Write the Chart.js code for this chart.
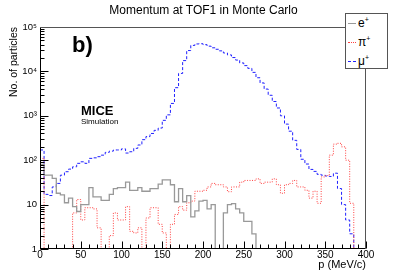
<!DOCTYPE html>
<html>
<head>
<meta charset="utf-8">
<script src="https://cdn.jsdelivr.net/npm/chart.js@4.4.0/dist/chart.umd.min.js"></script>
<style>
  html, body { margin: 0; padding: 0; background: #fff; }
  #wrap { position: relative; width: 407px; height: 276px; font-family: "Liberation Sans", Arial, sans-serif; color: #000; }
  canvas { position: absolute; left: 0; top: 0; }
  .txt { position: absolute; white-space: nowrap; line-height: 1; }
  #title { left: 0; width: 407px; top: 4px; text-align: center; font-size: 12px; }
  #tag { left: 72px; top: 34px; font-size: 22px; font-weight: bold; }
  #mice { left: 81px; top: 104px; font-size: 13px; font-weight: bold; }
  #sim { left: 81px; top: 118px; font-size: 8px; }
  #legend { position: absolute; left: 345px; top: 13px; width: 41px; height: 54px; border: 1px solid #555; background: #fff; }
  .entry { position: absolute; left: 2px; font-size: 12px; line-height: 14px; white-space: nowrap; }
  .entry sup { font-size: 7px; vertical-align: 5px; line-height: 0; }
  .sample { display: inline-block; width: 8px; height: 0; vertical-align: middle; margin-right: 2px; }
</style>
</head>
<body>
<div id="wrap">
  <canvas id="c" width="407" height="276"></canvas>
  <div class="txt" id="title">Momentum at TOF1 in Monte Carlo</div>
  <div class="txt" id="tag">b)</div>
  <div class="txt" id="mice">MICE</div>
  <div class="txt" id="sim">Simulation</div>
  <div id="legend">
    <div class="entry" style="top:2px"><span class="sample" style="border-top:1px solid #999"></span>e<sup>+</sup></div>
    <div class="entry" style="top:21px"><span class="sample" style="border-top:1px dotted #ff4040"></span>π<sup>+</sup></div>
    <div class="entry" style="top:40px"><span class="sample" style="border-top:1px dashed #2020ff"></span>μ<sup>+</sup></div>
  </div>
</div>
<script>
// lower edges of the 5 MeV/c momentum bins
const binLow = [0, 5, 10, 15, 20, 25, 30, 35, 40, 45, 50, 55, 60, 65, 70, 75, 80, 85, 90, 95,
  100, 105, 110, 115, 120, 125, 130, 135, 140, 145, 150, 155, 160, 165, 170, 175, 180, 185, 190, 195,
  200, 205, 210, 215, 220, 225, 230, 235, 240, 245, 250, 255, 260, 265, 270, 275, 280, 285, 290, 295,
  300, 305, 310, 315, 320, 325, 330, 335, 340, 345, 350, 355, 360, 365, 370, 375, 380, 385, 390, 395];
const binEnd = 400;

const electrons = [80, 46, 46, 39, 18, 16.5, 11, 14, 9, 7,
  10, 10, 24, 15, 15, 12.5, 12.5, 17, 23, 24,
  24, 32, 21, 21, 24, 20, 20, 23, 23, 29,
  36, 36, 28, 11.6, 23, 11.6, 16, 5.3, 7.2, 12,
  12.5, 8, 10, 0, 0, 6.5, 10, 10.5, 8, 6.5,
  4.2, 4.2, 2.2, 0, 0, 0, 0, 0, 0, 0,
  0, 0, 0, 0, 0, 0, 0, 0, 0, 0,
  0, 0, 0, 0, 0, 0, 0, 0, 0, 0];

const pions = [110, 0, 0, 0, 0, 0, 0, 0, 6.5, 13,
  4.5, 8.5, 8.5, 8, 3, 0, 0, 2, 6.5, 4.5,
  4.5, 9, 2.5, 2.3, 3, 0, 5, 8.5, 8.5, 3.6,
  2.3, 1, 3.6, 6, 9, 7.5, 11, 12, 20, 20,
  21, 25, 30, 28, 28, 25, 19.5, 25, 25, 32,
  35, 35, 35, 38, 30, 32, 32, 38, 28, 18,
  28, 30, 35, 25, 25, 21, 14, 20, 10.7, 42,
  45, 130, 230, 240, 200, 100, 10.7, 0, 0, 0];

const muons = [170, 17, 16, 25, 30, 46, 55, 63, 71, 85,
  92, 85, 110, 113, 120, 130, 150, 160, 170, 170,
  180, 145, 155, 185, 220, 290, 340, 400, 470, 530,
  790, 1050, 1900, 4300, 9000, 17500, 29500, 38500, 41500, 42000,
  40000, 37000, 34000, 31500, 29000, 26000, 23500, 20500, 18000, 15500,
  13500, 11700, 9500, 7200, 5500, 4000, 2900, 2100, 1500, 1000,
  650, 450, 280, 175, 105, 82, 62, 56, 48, 46,
  44, 43, 51, 23, 10, 4.5, 2.2, 0, 0, 0];

const xTickValues = [0, 50, 100, 150, 200, 250, 300, 350, 400];
const yTickValues = [1, 10, 100, 1000, 10000, 100000];
const yTickLabels = ['1', '10', '10²', '10³', '10⁴', '10⁵'];
const yFloor = 1;

// empty bins sit on the frame bottom, like ROOT draws them
function histPoints(vals) {
  const pts = binLow.map((p, i) => ({ x: p, y: Math.max(vals[i], yFloor) }));
  pts.push({ x: binEnd, y: Math.max(vals[vals.length - 1], yFloor) });
  return pts;
}

Chart.defaults.font.family = '"Liberation Sans", Arial, sans-serif';
Chart.defaults.color = '#000';

// ROOT style frame with inward tick marks
const frameTicks = {
  id: 'frameTicks',
  afterDraw(chart) {
    const { ctx, chartArea: a, scales: { x, y } } = chart;
    ctx.save();
    ctx.strokeStyle = '#000';
    ctx.lineWidth = 1;
    ctx.beginPath();
    const bottom = a.bottom - 0.5;
    for (let p = 0; p <= binEnd; p += 10) {
      const px = Math.round(x.getPixelForValue(p)) + 0.5;
      const len = p % 50 === 0 ? 7 : 4;
      ctx.moveTo(px, bottom);
      ctx.lineTo(px, bottom - len);
    }
    const left = a.left + 0.5;
    for (let d = 1; d < 100000; d *= 10) {
      for (let m = 1; m <= 9; m++) {
        const py = Math.round(y.getPixelForValue(m * d)) + 0.5;
        ctx.moveTo(left, py);
        ctx.lineTo(left + (m === 1 ? 8 : 4), py);
      }
    }
    ctx.moveTo(left, a.top + 0.5);
    ctx.lineTo(left + 8, a.top + 0.5);
    ctx.stroke();
    ctx.beginPath();
    ctx.moveTo(left, a.top);
    ctx.lineTo(left, a.bottom);
    ctx.moveTo(a.left, bottom);
    ctx.lineTo(a.right, bottom);
    ctx.stroke();
    ctx.beginPath();
    ctx.strokeStyle = '#555';
    ctx.moveTo(a.left, a.top + 0.5);
    ctx.lineTo(a.right - 0.5, a.top + 0.5);
    ctx.lineTo(a.right - 0.5, a.bottom);
    ctx.stroke();
    ctx.restore();
  }
};

new Chart(document.getElementById('c'), {
  type: 'line',
  data: {
    datasets: [
      { label: 'e+', data: histPoints(electrons), borderColor: '#999999', borderWidth: 1.3 },
      { label: 'π+', data: histPoints(pions), borderColor: '#ff4040', borderWidth: 1, borderDash: [1, 1.5] },
      { label: 'μ+', data: histPoints(muons), borderColor: '#2020ff', borderWidth: 1, borderDash: [3, 2] },
    ],
  },
  options: {
    responsive: false,
    animation: false,
    events: [],
    layout: { padding: { top: 27, right: 41, left: 0, bottom: 0 } },
    elements: { point: { radius: 0 }, line: { stepped: true, tension: 0, fill: false } },
    plugins: { legend: { display: false }, tooltip: { enabled: false } },
    scales: {
      x: {
        type: 'linear',
        min: 0,
        max: binEnd,
        grid: { display: false, drawTicks: false },
        border: { display: false },
        afterBuildTicks: (s) => { s.ticks = xTickValues.map((v) => ({ value: v })); },
        afterFit: (s) => { s.height = 27; },
        ticks: { autoSkip: false, maxRotation: 0, padding: 0, font: { size: 10 } },
        title: { display: true, text: 'p (MeV/c)', align: 'end', font: { size: 11 }, padding: { top: 0, bottom: 4 } },
      },
      y: {
        type: 'logarithmic',
        min: 1,
        max: 100000,
        grid: { display: false, drawTicks: false },
        border: { display: false },
        afterBuildTicks: (s) => { s.ticks = yTickValues.map((v) => ({ value: v })); },
        afterFit: (s) => { s.width = 40; },
        ticks: { padding: 3, font: { size: 9.5 }, callback: (v, i) => yTickLabels[i] },
        title: { display: true, text: 'No. of particles', align: 'end', font: { size: 10.5 }, padding: { top: 8, bottom: 0 } },
      },
    },
  },
  plugins: [frameTicks],
});
</script>
</body>
</html>
